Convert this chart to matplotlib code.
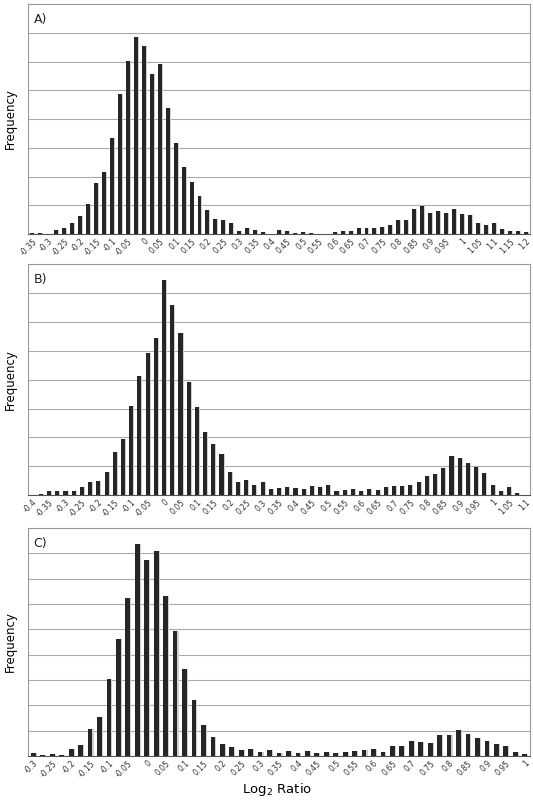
import numpy as np
import matplotlib
matplotlib.use("Agg")
import matplotlib.pyplot as plt

# Panel A: bins -0.35 .. 1.2 step 0.025 (frequency in gridline units)
a_start, a_end = -0.35, 1.2
a_vals = [0.03,0.02,0.01,0.13,0.22,0.38,0.61,1.05,1.77,2.17,3.34,4.87,6.01,6.84,6.54,5.55,5.91,
          4.38,3.17,2.33,1.82,1.31,0.85,0.52,0.49,0.40,0.10,0.20,0.15,0.08,0.01,0.15,0.11,
          0.02,0.06,0.05,0.01,0.01,0.08,0.10,0.10,0.20,0.22,0.22,0.26,0.30,0.47,0.49,0.87,
          0.98,0.72,0.80,0.72,0.87,0.70,0.66,0.38,0.30,0.40,0.18,0.10,0.10,0.08]
# Panel B: bins -0.4 .. 1.1
b_start, b_end = -0.4, 1.1
b_vals = [0.02,0.05,0.16,0.14,0.16,0.16,0.27,0.46,0.50,0.80,1.48,1.94,3.08,4.12,4.91,5.43,7.44,
          6.57,5.60,3.93,3.04,2.18,1.76,1.41,0.81,0.46,0.51,0.36,0.46,0.20,0.24,0.27,0.24,
          0.22,0.33,0.30,0.35,0.14,0.18,0.20,0.16,0.23,0.18,0.29,0.33,0.31,0.35,0.45,0.67,
          0.73,0.95,1.37,1.29,1.13,0.98,0.76,0.37,0.16,0.27,0.06,0.0]
# Panel C: bins -0.3 .. 1.0
c_start, c_end = -0.3, 1.0
c_vals = [0.10,0.04,0.06,0.04,0.26,0.45,1.08,1.52,3.04,4.61,6.23,8.35,7.75,8.09,6.31,4.94,3.43,
          2.21,1.21,0.75,0.49,0.34,0.23,0.27,0.14,0.25,0.10,0.19,
          0.10,0.21,0.13,0.16,0.12,0.16,0.21,0.23,0.27,0.16,0.39,0.39,0.60,0.56,0.53,0.83,
          0.83,1.04,0.88,0.70,0.60,0.47,0.39,0.16,0.09]

panels = [("A)", a_start, a_vals, 8), ("B)", b_start, b_vals, 8), ("C)", c_start, c_vals, 9)]
boxes = [(0.995, 0.7075), (0.67, 0.381), (0.34, 0.055)]

fig = plt.figure(figsize=(5.33, 8), dpi=100)
for (lab, start, vals, ymax), (top, bot) in zip(panels, boxes):
    ax = fig.add_axes([0.052, bot, 0.943, top - bot])
    n = len(vals)
    x = np.arange(n)
    ax.bar(x + 0.12, vals, width=0.5, color="#d0d0d0", zorder=2)
    ax.bar(x, vals, width=0.5, color="#262626", zorder=3)
    ax.set_xlim(-0.6, n - 0.4)
    ax.set_ylim(0, ymax)
    ax.set_yticks(np.arange(1, ymax))
    ax.set_yticklabels([])
    ax.tick_params(axis="y", length=0)
    ax.yaxis.grid(True, color="#aaaaaa", linewidth=0.8, zorder=0)
    labels = [f"{round(start + 0.025 * i, 3):g}" for i in range(0, n, 2)]
    ax.set_xticks(x[::2])
    ax.set_xticklabels(labels, rotation=45, ha="right", rotation_mode="anchor", fontsize=5.5, color="#333333")
    ax.tick_params(axis="x", length=0, pad=2)
    for s in ax.spines.values():
        s.set_color("#999999")
    ax.spines["bottom"].set_color("#555555")
    ax.text(0.012, 0.96, lab, transform=ax.transAxes, ha="left", va="top", fontsize=9, color="#222222")
    ax.set_ylabel("Frequency", fontsize=8.5, labelpad=4)

fig.text(0.52, 0.013, "Log$_2$ Ratio", ha="center", va="center", fontsize=9.5)
fig.savefig("out.png", dpi=100)
